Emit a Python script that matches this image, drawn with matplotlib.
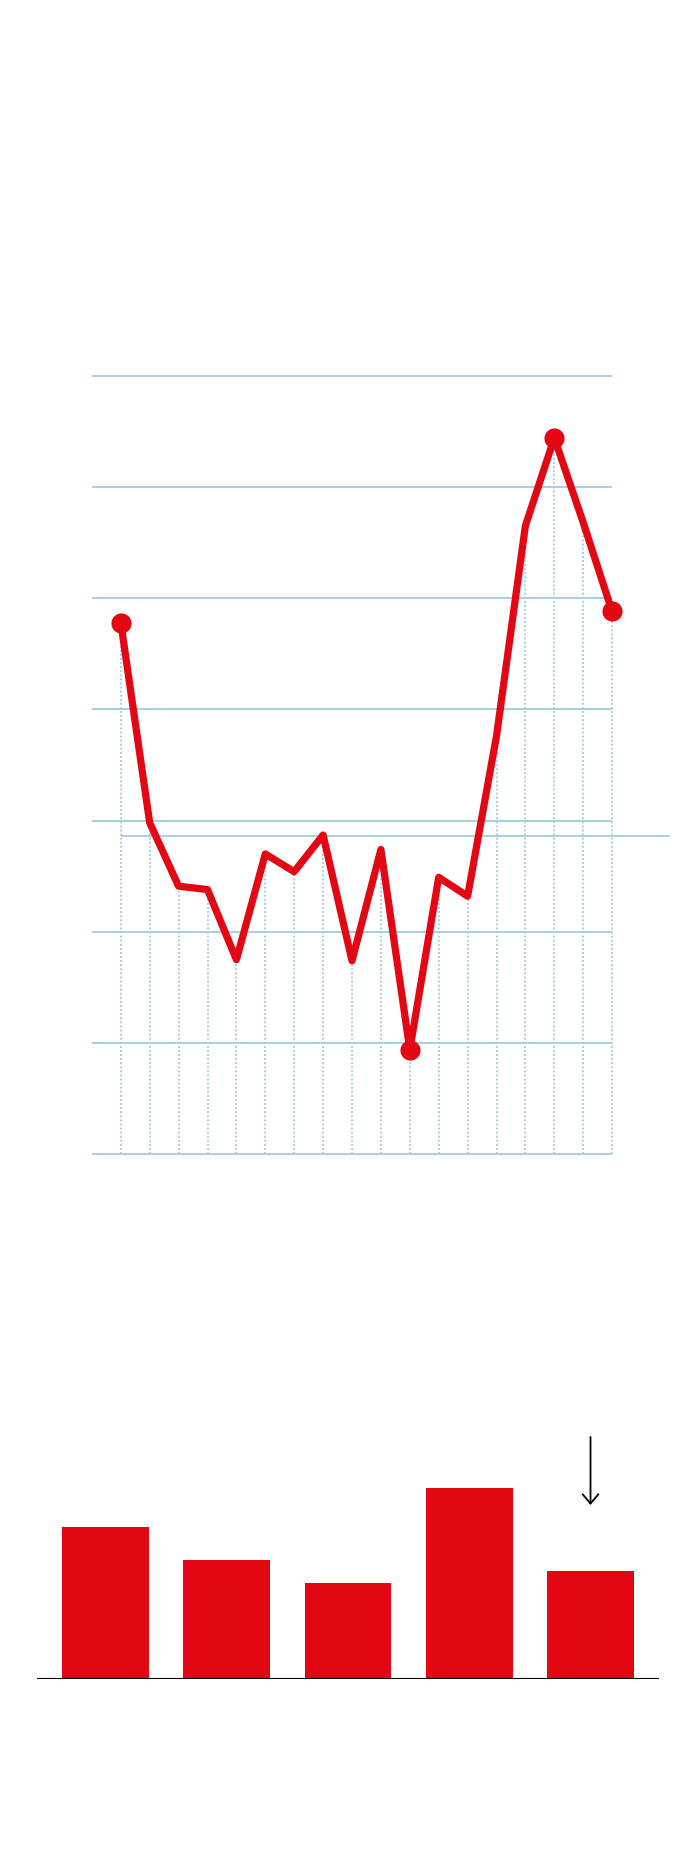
import matplotlib
matplotlib.use("Agg")
import matplotlib.pyplot as plt
import numpy as np

# line chart: 18 periods, values read in grid units (one unit per gridline)
LINE_VALUES = [4.78, 2.98, 2.41, 2.38, 1.75, 2.70, 2.54, 2.87, 1.74,
               2.74, 0.94, 2.49, 2.32, 3.76, 5.65, 6.44, 5.68, 4.88]
GRID_LEVELS = [0, 1, 2, 3, 4, 5, 6, 7]
REF_VALUE = 2.86
MARKED = [0, 10, 15, 17]  # first, min, max, last

# bar chart: 5 categories
BAR_VALUES = [4.57, 3.57, 2.87, 5.72, 3.24]
HIGHLIGHT_BAR = 4

RED = "#e30613"
BLUE = "#a9cfe4"

W, H = 700, 1870
fig = plt.figure(figsize=(W / 100, H / 100), dpi=100, facecolor="white")

# ── line chart ────────────────────────────────────────────────────────
# x: index -1..19 spans px 91.9..669.9 ; y: 0..7 spans px 1154.3..375.6
ax = fig.add_axes([91.9 / W, (H - 1154.3) / H, 578 / W, 778.7 / H])
ax.set_xlim(-1, 19)
ax.set_ylim(0, 7)
ax.axis("off")

n = len(LINE_VALUES)
x = np.arange(n)
for lvl in GRID_LEVELS:
    ax.plot([-1, n - 1], [lvl, lvl], color=BLUE, lw=1.4, zorder=1,
            solid_capstyle="butt", clip_on=False)
ax.vlines(x, 0, LINE_VALUES, colors=BLUE, lw=1.4,
          linestyles=(0, (1, 1.1)), zorder=1)
ax.plot([0, 19], [REF_VALUE, REF_VALUE], color=BLUE, lw=1.4, zorder=2,
        solid_capstyle="butt", clip_on=False)

ax.plot(x, LINE_VALUES, color=RED, lw=5.2, solid_joinstyle="round",
        solid_capstyle="round", zorder=3, clip_on=False)
ax.plot(x[MARKED], np.array(LINE_VALUES)[MARKED], "o", color=RED,
        ms=14.5, mec="none", zorder=4, clip_on=False)

# ── bar chart ─────────────────────────────────────────────────────────
# x: bar index, centres at px 105.5 + i*121.25 ; y: 1 unit = 33.33 px
bx = fig.add_axes([37 / W, (H - 1679) / H, 622.5 / W, 266.7 / H])
bx.set_xlim(-0.565, 4.569)
bx.set_ylim(0, 8)
bx.axis("off")

bx.bar(np.arange(len(BAR_VALUES)), BAR_VALUES, width=0.717, color=RED,
       zorder=2)
bx.axhline(0, color="black", lw=1.5, zorder=3)

top = BAR_VALUES[HIGHLIGHT_BAR]
bx.annotate("", xy=(HIGHLIGHT_BAR, top + 1.98), xytext=(HIGHLIGHT_BAR, top + 4.02),
            arrowprops=dict(arrowstyle="->, head_length=0.45, head_width=0.38",
                            color="black", lw=1.3, mutation_scale=15,
                            shrinkA=0, shrinkB=0))

fig.savefig("out.png", dpi=100, facecolor="white")
